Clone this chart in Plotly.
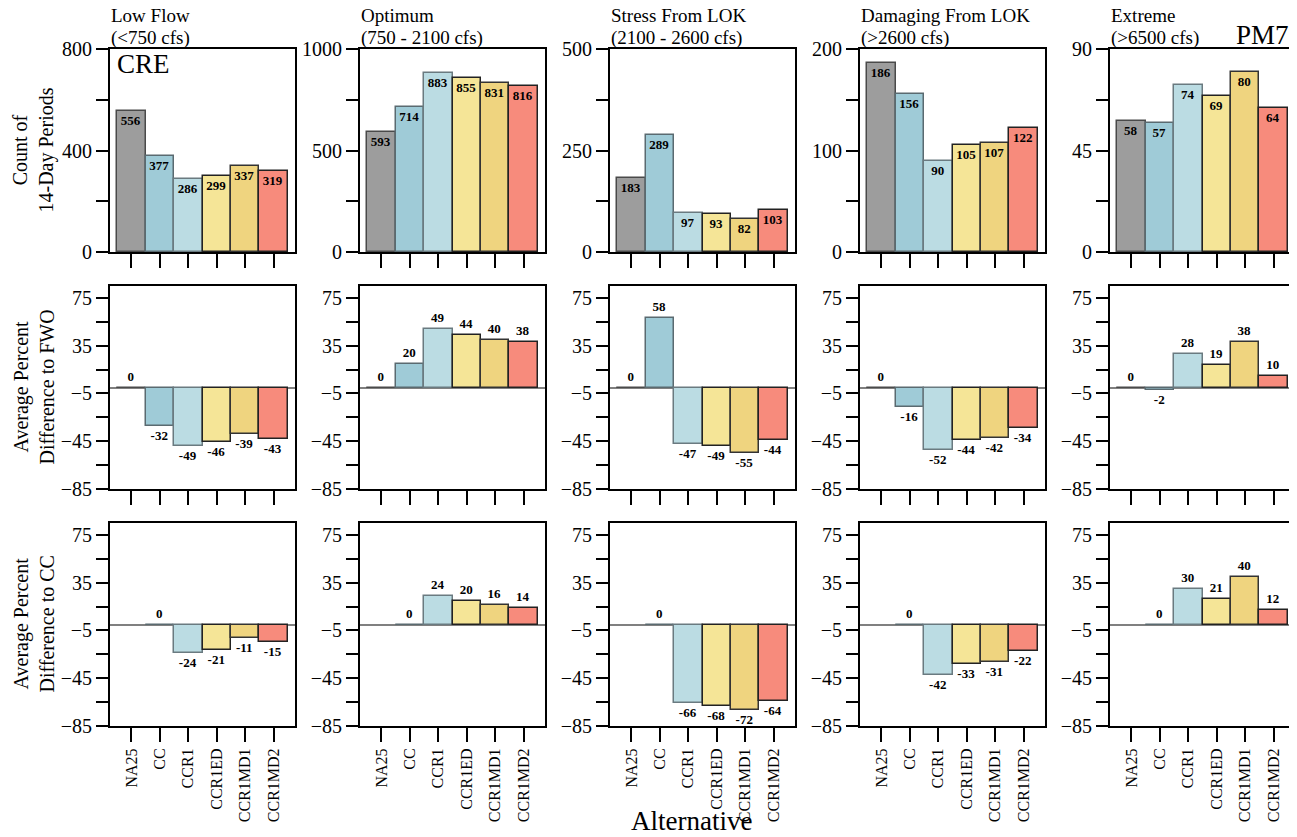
import plotly.graph_objects as go
from plotly.subplots import make_subplots

alternatives = ["NA25", "CC", "CCR1", "CCR1ED", "CCR1MD1", "CCR1MD2"]

category_names = ["Low Flow", "Optimum", "Stress From LOK", "Damaging From LOK", "Extreme"]
category_ranges = ["(&lt;750 cfs)", "(750 - 2100 cfs)", "(2100 - 2600 cfs)",
                   "(&gt;2600 cfs)", "(&gt;6500 cfs)"]

# count of 14-day periods
count_low_flow = [556, 377, 286, 299, 337, 319]
count_optimum = [593, 714, 883, 855, 831, 816]
count_stress = [183, 289, 97, 93, 82, 103]
count_damaging = [186, 156, 90, 105, 107, 122]
count_extreme = [58, 57, 74, 69, 80, 64]

# average percent difference to FWO (NA25)
fwo_low_flow = [0, -32, -49, -46, -39, -43]
fwo_optimum = [0, 20, 49, 44, 40, 38]
fwo_stress = [0, 58, -47, -49, -55, -44]
fwo_damaging = [0, -16, -52, -44, -42, -34]
fwo_extreme = [0, -2, 28, 19, 38, 10]

# average percent difference to CC
cc_low_flow = [None, 0, -24, -21, -11, -15]
cc_optimum = [None, 0, 24, 20, 16, 14]
cc_stress = [None, 0, -66, -68, -72, -64]
cc_damaging = [None, 0, -42, -33, -31, -22]
cc_extreme = [None, 0, 30, 21, 40, 12]

count_max = [800, 1000, 500, 200, 90]

rows_data = [
    [count_low_flow, count_optimum, count_stress, count_damaging, count_extreme],
    [fwo_low_flow, fwo_optimum, fwo_stress, fwo_damaging, fwo_extreme],
    [cc_low_flow, cc_optimum, cc_stress, cc_damaging, cc_extreme],
]

row_titles = [
    "Count of<br>14-Day Periods",
    "Average Percent<br>Difference to FWO",
    "Average Percent<br>Difference to CC",
]

bar_colors = ["#9d9d9d", "#9fcbd7", "#bbdce3", "#f5e597", "#efd47f", "#f78b7c"]
edge_colors = ["#4a4a4a", "#5a6a70", "#6a7a80", "#222222", "#333333", "#222222"]

W, H = 1297, 837
OFF = 8  # page body margin
col_left = [110, 360, 610, 860, 1110]
col_w = 185
row_top = [49, 286, 523]
row_h = 203

FONT = "Liberation Serif"


def xp(px):
    return (px - OFF) / W


def yp(py):
    return 1 - (py - OFF) / H


fig = make_subplots(rows=3, cols=5)

for r in range(3):
    for c in range(5):
        vals = rows_data[r][c]
        labels = ["" if v is None else "<b>%d</b>" % v for v in vals]
        bar = go.Bar(
            x=alternatives,
            y=vals,
            text=labels,
            texttemplate="%{text}",
            width=1,
            marker=dict(color=bar_colors, line=dict(color=edge_colors, width=1.5)),
            textfont=dict(family=FONT, size=13, color="black"),
            cliponaxis=False,
            showlegend=False,
            hoverinfo="x+y",
        )
        if r == 0:
            bar.update(textposition="inside", insidetextanchor="end")
        else:
            bar.update(textposition="outside")
        fig.add_trace(bar, row=r + 1, col=c + 1)

        fig.update_xaxes(
            domain=[xp(col_left[c]), xp(col_left[c] + col_w)],
            range=[-0.75, 5.75],
            automargin=False,
            showline=True, mirror=True, linecolor="black", linewidth=2,
            ticks="outside", ticklen=14, tickwidth=2, tickcolor="black",
            showticklabels=(r == 2), tickangle=-90,
            tickfont=dict(family=FONT, size=16, color="black"),
            showgrid=False,
            row=r + 1, col=c + 1,
        )
        if r == 0:
            top = count_max[c]
            fig.update_yaxes(
                range=[0, top], tickvals=[0, top / 2, top],
                ticktext=[str(int(v)) if v == int(v) else str(v) for v in [0, top / 2, top]],
                minor=dict(tickvals=[top / 4, 3 * top / 4], ticks="outside",
                           ticklen=12, tickwidth=2, tickcolor="black"),
                zeroline=False,
                row=r + 1, col=c + 1,
            )
        else:
            fig.update_yaxes(
                range=[-85, 85], tickvals=[-85, -45, -5, 35, 75],
                minor=dict(tickvals=[-65, -25, 15, 55], ticks="outside",
                           ticklen=12, tickwidth=2, tickcolor="black"),
                zeroline=True, zerolinecolor="#808080", zerolinewidth=2,
                row=r + 1, col=c + 1,
            )
        fig.update_yaxes(
            domain=[yp(row_top[r] + row_h), yp(row_top[r])],
            automargin=False,
            showline=True, mirror=True, linecolor="black", linewidth=2,
            ticks="outside", ticklen=12, tickwidth=2, tickcolor="black",
            tickfont=dict(family=FONT, size=20, color="black"),
            showgrid=False,
            row=r + 1, col=c + 1,
        )

annotations = []
for c in range(5):
    for line, ypix in ((category_names[c], 15.5), (category_ranges[c], 38)):
        annotations.append(dict(
            text=line, x=xp(col_left[c] - 1), y=yp(ypix),
            xref="paper", yref="paper", xanchor="left", yanchor="middle",
            showarrow=False,
            font=dict(family=FONT, size=19, color="black"),
        ))
for r in range(3):
    annotations.append(dict(
        text=row_titles[r], x=xp(33), y=yp(row_top[r] + row_h / 2),
        xref="paper", yref="paper", xanchor="center", yanchor="middle",
        textangle=-90, showarrow=False,
        font=dict(family=FONT, size=20, color="black"),
    ))
annotations.append(dict(
    text="CRE", x=xp(col_left[0] + 5), y=yp(row_top[0] - 2),
    xref="paper", yref="paper", xanchor="left", yanchor="top",
    showarrow=False, font=dict(family=FONT, size=27, color="black"),
))
annotations.append(dict(
    text="PM7", x=xp(1291), y=yp(52),
    xref="paper", yref="paper", xanchor="right", yanchor="bottom",
    showarrow=False, font=dict(family=FONT, size=27, color="black"),
))
annotations.append(dict(
    text="Alternative", x=xp(691), y=yp(821),
    xref="paper", yref="paper", xanchor="center", yanchor="middle",
    showarrow=False, font=dict(family=FONT, size=27, color="black"),
))

fig.update_layout(
    template="none",
    width=W, height=H,
    margin=dict(l=0, r=0, t=0, b=0),
    bargap=0,
    plot_bgcolor="white",
    paper_bgcolor="white",
    font=dict(family=FONT, color="black"),
    annotations=annotations,
)

fig.write_html("out.html")
